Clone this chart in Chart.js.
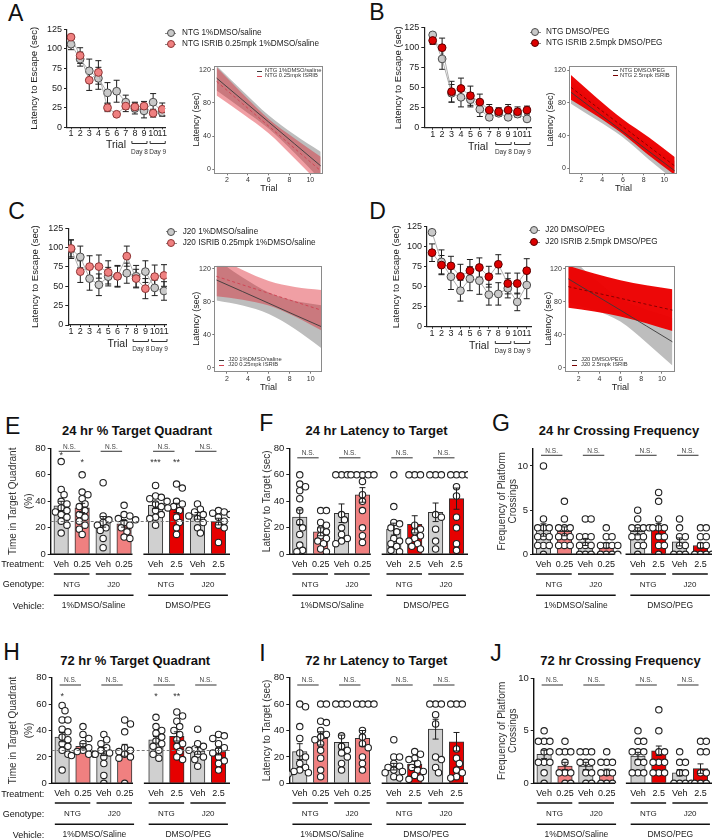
<!DOCTYPE html>
<html><head><meta charset="utf-8"><title>ISRIB water maze</title>
<script src="https://cdn.jsdelivr.net/npm/chart.js@4.4.1/dist/chart.umd.min.js"></script>
<style>
html,body{margin:0;padding:0;background:#fff}
body{position:relative;width:712px;height:839px;overflow:hidden;font-family:'Liberation Sans',Arial,Helvetica,sans-serif;color:#111}
canvas{position:absolute}
.t{position:absolute;white-space:nowrap;line-height:1}
.ln{position:absolute;height:0}
.dot{position:absolute;box-sizing:border-box;border-radius:50%}
</style></head><body>
<script>
// ================= DATA =================
const trials = [1,2,3,4,5,6,7,8,9,10,11];
const escapeTicks = [0,25,50,75,100,125];
const dayBrackets = [[8,9,'Day 8'],[10,11,'Day 9']];

const A_names = ['NTG 1%DMSO/saline','NTG ISRIB 0.25mpk 1%DMSO/saline'];
const A_veh = [106,87,72,62.5,44,46,32,24,21,32,19];
const A_vehSem = [7,9,15,14,13,14,9,7,9,11,5];
const A_isrib = [115,91.5,60,70,25,16.6,27,26,27,18,23];
const A_isribSem = [3,10,13,15,5,1.5,7,6,6,5,8];

const B_names = ['NTG DMSO/PEG','NTG ISRIB 2.5mpk DMSO/PEG'];
const B_veh = [116,86,43,38,35,23,13,18,13,17,11];
const B_vehSem = [2,13,11,12,9,9,3,4,3,4,3];
const B_isrib = [109,100,45,49,40,32,22,20,22,20,22];
const B_isribSem = [5,12,13,13,12,10,7,5,7,6,5];

const C_names = ['J20 1%DMSO/saline','J20 ISRIB 0.25mpk 1%DMSO/saline'];
const C_veh = [98,88,60,52,62.5,63,67,63,69,48,44];
const C_vehSem = [12,14,15,14,12,14,13,14,14,10,12];
const C_isrib = [99,69,75.5,75.5,68,63,89,60,47,62.5,64];
const C_isribSem = [11,14,14,15,15,13,13,12,13,15,14];

const D_names = ['J20 DMSO/PEG','J20 ISRIB 2.5mpk DMSO/PEG'];
const D_veh = [118,81,62.5,45,60,57.5,40,41,48,31,52];
const D_vehSem = [3,15,16,13,15,17,13,14,12,11,17];
const D_isrib = [92.5,77,76,63,70,74,62.5,78,54,54,70];
const D_isribSem = [11,12,12,15,14,12,13,12,13,13,15];

// regression insets (fit line and confidence band read at these trials)
const fitTrials = [1,3.5,6,8.5,11];
const insetYTicks = [0,40,80,120];
const insetXTicks = [2,4,6,8,10];
const A_fitNames = ['NTG 1%DMSO/saline','NTG 0.25mpk ISRIB'];
const A_vehFit=[110,83.5,57,30.5,4], A_vehHi=[125,94.5,65,41.5,21], A_vehLo=[95,72.5,49,19.5,-13];
const A_trtFit=[106,79,52,25,-2], A_trtHi=[123,91,60.5,37,15], A_trtLo=[89,67,43.5,13,-19];
const B_fitNames = ['NTG DMSO/PEG','NTG 2.5mpk ISRIB'];
const B_vehFit=[93,69,45,21,-3], B_vehHi=[107,79,52,31,9], B_vehLo=[79,59,38,11,-15];
const B_trtFit=[99,75,51,27,3], B_trtHi=[114,86,60,38,14], B_trtLo=[84,64,42,16,-8];
const C_fitNames = ['J20 1%DMSO/saline','J20 0.25mpk ISRIB'];
const C_vehFit=[106.6,92.5,78.3,64,50], C_vehHi=[131.6,109.5,91.3,81,76], C_vehLo=[81.6,75.5,65.3,47,24];
const C_trtFit=[111,100.7,90.5,80.2,70], C_trtHi=[135,118.7,105.5,98.2,94.5], C_trtLo=[87,82.7,75.5,62.2,45.5];
const D_fitNames = ['J20 DMSO/PEG','J20 2.5mpk ISRIB'];
const D_vehFit=[108,89,70,50.7,31.5], D_vehHi=[137,108,84,70.7,60.5], D_vehLo=[79,70,56,30.7,2.5];
const D_trtFit=[98.5,91.4,84.3,77.1,70], D_trtHi=[124,114.4,106.3,100.1,95.5], D_trtLo=[73,68.4,62.3,54.1,44.5];

// probe-trial bar panels
const treatLabels = ['Veh','0.25','Veh','0.25','Veh','2.5','Veh','2.5'];
const genotypeLabels = ['NTG','J20','NTG','J20'];
const vehicleLabels = ['1%DMSO/Saline','DMSO/PEG'];
const nsLabel = 'N.S.';
const pctTicks = [0,20,40,60,80];
const crossTicks = [0,5,10];

const E_mean = [36.5,35,24.5,23,37,35,29,24.7];
const E_sem = [3.5,3.5,4,2.5,2.5,3.5,2.5,2.5];
const E_pts = [
 [70,49,45,40,38,35,33,32,30,28,25,22,16],
 [60,47,45,42,38,36,33,30,28,25,22,19,15],
 [54,29,26,24,22,20,18,12,5],
 [37,30,29,27,26,24,22,20,17,13,12],
 [52,44,43,42,40,38,36,33,30,28,27,22],
 [53,50,40,38,36,35,33,28,24,20,15],
 [38,34,32,30,29,27,24,20,16],
 [33,32,31,30,28,25,22,20,9]];
const E_stars = ['*','*','','','***','**','',''];

const F_mean = [28,17,31,44.8,19,22.6,31.7,42];
const F_sem = [5.5,3,7,5.5,4.5,6.5,7,8];
const F_pts = [
 [60,53,51,48,42,33,24,20,15,7,3,2],
 [33,33,24,22,19,17,14,12,10,8,4,2],
 [60,60,60,30,26,20,15,12,10,8],
 [60,60,60,60,60,55,45,40,33,20,14,9],
 [60,36,24,23,20,17,12,10,8,6,3,2],
 [60,60,60,22,19,17,14,12,10,8,6,4],
 [60,60,60,30,28,19,10,4],
 [60,60,60,60,51,44,28,20,8,3]];

const G_mean = [2.75,2.6,1.4,1.0,2.6,2.9,1.4,1.0];
const G_sem = [0.7,0.5,0.4,0.3,0.4,0.6,0.45,0.3];
const G_pts = [
 [10,4,3,3,3,2,2,2,1,1,1,0],
 [6,4,3,3,3,2,2,2,1,1,1],
 [4,4,2,2,2,1,1,1,0,0,0],
 [3,2,2,1,1,1,1,0,0,0,0],
 [5,4,3,3,3,3,2,2,2,1,1,0],
 [7,6,4,3,3,3,2,2,1,1,0],
 [4,3,2,2,1,1,0,0,0],
 [3,3,2,2,1,1,0,0,0,0]];

const H_mean = [35,28,24,25,33,35.5,24.5,24];
const H_sem = [3.5,2,3,4.5,2.5,3.5,2.5,2.5];
const H_pts = [
 [59,55,48,48,41,39,35,33,30,28,25,22,10],
 [43,37,34,30,27,25,24,22,22,21],
 [37,33,30,27,25,23,22,20,15,6,0],
 [48,45,39,27,25,24,22,20,19,0],
 [50,43,40,38,35,32,30,28,25,22,19],
 [54,51,47,43,40,37,33,30,28,24,20,18],
 [41,30,28,26,25,22,20,18,13],
 [37,36,34,30,27,25,23,20,17,15,10]];
const H_stars = ['*','','','','*','**','',''];

const I_mean = [24,34,31,34,12.6,14.4,41,31.5];
const I_sem = [6,5,5.5,6,2.5,2.5,7.5,7];
const I_pts = [
 [60,58,43,34,23,20,15,12,10,9,8,7],
 [60,60,47,46,40,37,35,33,30,25,19,10,5],
 [60,60,60,36,28,25,23,20,15,10],
 [60,60,60,60,40,35,30,27,20,15,10],
 [33,20,20,15,13,12,10,9,8,5,4],
 [24,22,19,18,15,12,10,9,6,4,3],
 [60,60,60,52,45,20,18,12,8],
 [60,60,60,26,19,15,10,8,5,4]];

const J_mean = [2.75,1.65,1.65,1.05,2.6,3.1,1.0,1.4];
const J_sem = [0.4,0.35,0.35,0.3,0.35,0.45,0.3,0.45];
const J_pts = [
 [5,4,4,4,3,3,2,2,2,1,0],
 [4,3,3,3,2,1,1,1,0,0],
 [3,3,3,2,2,2,1,1,0,0],
 [3,2,2,2,1,1,1,0,0,0],
 [5,4,4,3,3,3,2,2,1,1,1],
 [7,5,3,3,2,2,2,1,1,1],
 [3,2,2,1,1,0,0,0,0],
 [4,4,3,3,1,1,0,0,0]];

// ================= STYLE / LAYOUT =================
const FONT = "'Liberation Sans', Arial, Helvetica, sans-serif";
Chart.defaults.font.family = FONT;
Chart.defaults.color = '#222';
Chart.defaults.animation = false;
Chart.defaults.events = [];
Chart.defaults.plugins.legend.display = false;
Chart.defaults.plugins.tooltip.enabled = false;

const XMAX = 8.55, BAR_POS = [0.5,1.5,2.5,3.5,5,6,7,8], BRK = [3.9,4.42];
const KIND = ['veh','low','veh','low','veh','high','veh','high'];
const BAR_FILL = {veh:'#d0d0d0', low:'#f08080', high:'#e60000'};
const PINK = {fill:'#ef8080', stroke:'#8e3535'};
const RED = {fill:'#dd0000', stroke:'#5a0000'};
const GREYPT = {fill:'#c9c9c9', stroke:'#4a4a4a'};

function addCanvas(g, yW, xH, p) {
  const left = Math.floor(g.L - yW - p.l), top = Math.floor(g.T - p.t);
  const right = Math.ceil(g.R + p.r), bottom = Math.ceil(g.B + xH + p.b);
  const c = document.createElement('canvas');
  c.width = right - left; c.height = bottom - top;
  c.style.left = left + 'px'; c.style.top = top + 'px';
  c.style.width = c.width + 'px'; c.style.height = c.height + 'px';
  document.body.appendChild(c);
  return {canvas: c, padding: {left: g.L - yW - left, top: g.T - top, right: right - g.R, bottom: bottom - g.B - xH}};
}

function txt(x, y, s, size, o) {
  o = o || {};
  const d = document.createElement('div'); d.className = 't'; d.textContent = s;
  d.style.fontSize = size + 'px';
  if (o.bold) d.style.fontWeight = 'bold';
  d.style.color = o.color || '#111';
  d.style.top = (y - 0.49 * size) + 'px';
  if (o.align === 'c') { d.style.left = x + 'px'; d.style.transform = 'translateX(-50%)'; }
  else if (o.align === 'r') { d.style.right = (712 - x) + 'px'; }
  else d.style.left = x + 'px';
  document.body.appendChild(d);
}
function hline(x1, x2, y, color, w, dash) {
  const d = document.createElement('div'); d.className = 'ln';
  d.style.left = x1 + 'px'; d.style.top = (y - w / 2) + 'px'; d.style.width = (x2 - x1) + 'px';
  d.style.borderTop = w + 'px ' + (dash ? 'dashed ' : 'solid ') + color;
  document.body.appendChild(d);
}
function dot(cx, cy, r, st) {
  const d = document.createElement('div'); d.className = 'dot';
  d.style.left = (cx - r) + 'px'; d.style.top = (cy - r) + 'px';
  d.style.width = d.style.height = (2 * r) + 'px';
  d.style.background = st.fill; d.style.border = '1px solid ' + st.stroke;
  document.body.appendChild(d);
}

function errBars(onTop) {
  const draw = chart => {
    const {ctx, scales: {y}} = chart;
    ctx.save(); ctx.strokeStyle = '#1e1e1e'; ctx.lineWidth = 1;
    chart.data.datasets.forEach((ds, di) => {
      if (!ds.sem) return;
      const meta = chart.getDatasetMeta(di);
      ds.data.forEach((d, i) => {
        const px = meta.data[i].x;
        const a = y.getPixelForValue(d.y + ds.sem[i]), b = y.getPixelForValue(d.y - ds.sem[i]);
        ctx.beginPath(); ctx.moveTo(px, a); ctx.lineTo(px, b);
        ctx.moveTo(px - 3, a); ctx.lineTo(px + 3, a); ctx.moveTo(px - 3, b); ctx.lineTo(px + 3, b);
        ctx.stroke();
      });
    });
    ctx.restore();
  };
  return onTop ? {id: 'errTop', afterDatasetsDraw: draw} : {id: 'errUnder', beforeDatasetsDraw: draw};
}

const bracketPlugin = {id: 'brk', afterDraw(chart) {
  const {ctx, chartArea: ca, scales: {x}} = chart;
  ctx.save(); ctx.strokeStyle = '#333'; ctx.lineWidth = 1; ctx.fillStyle = '#333';
  ctx.font = '6.5px ' + FONT; ctx.textAlign = 'center'; ctx.textBaseline = 'middle';
  dayBrackets.forEach(([a, b, t]) => {
    const x1 = x.getPixelForValue(a) - 3, x2 = x.getPixelForValue(b) + 3, yy = Math.round(ca.bottom + 16) + 0.5;
    ctx.beginPath(); ctx.moveTo(x1, yy - 2.5); ctx.lineTo(x1, yy); ctx.lineTo(x2, yy); ctx.lineTo(x2, yy - 2.5); ctx.stroke();
    ctx.fillText(t, (x1 + x2) / 2, ca.bottom + 24.5);
  });
  ctx.restore();
}};

function mainChart(g, veh, vehSem, trt, trtSem, trtStyle) {
  const {canvas, padding} = addCanvas(g, g.yW, g.xH, {l: 3, t: 8, r: 8, b: 5});
  const pts = ys => trials.map((t, i) => ({x: t, y: ys[i]}));
  new Chart(canvas, {
    type: 'line',
    data: {datasets: [
      {data: pts(trt), sem: trtSem, borderColor: '#9a9a9a', borderWidth: 0.8, pointRadius: 3.9,
       pointBackgroundColor: trtStyle.fill, pointBorderColor: trtStyle.stroke, pointBorderWidth: 1, order: 0},
      {data: pts(veh), sem: vehSem, borderColor: '#9a9a9a', borderWidth: 0.8, pointRadius: 3.9,
       pointBackgroundColor: GREYPT.fill, pointBorderColor: GREYPT.stroke, pointBorderWidth: 1, order: 1}
    ]},
    options: {
      responsive: false, layout: {padding},
      scales: {
        x: {type: 'linear', min: g.xmin, max: g.xmax, bounds: 'data',
            afterBuildTicks: s => { s.ticks = trials.map(v => ({value: v})); },
            afterFit: s => { s.height = g.xH; },
            ticks: {autoSkip: false, maxRotation: 0, font: {size: 9, lineHeight: 1}, padding: 0, color: '#222'},
            grid: {drawOnChartArea: false, drawTicks: true, tickLength: 2, color: '#222'},
            border: {color: '#222', width: 1.2},
            title: {display: true, text: 'Trial', font: {size: 10.5}, padding: 0, color: '#222'}},
        y: {min: 0, max: 125,
            afterBuildTicks: s => { s.ticks = escapeTicks.map(v => ({value: v})); },
            afterFit: s => { s.width = g.yW; },
            ticks: {font: {size: 9}, padding: 2, color: '#222'},
            grid: {drawOnChartArea: false, tickLength: 3, color: '#222'},
            border: {color: '#222', width: 1.2},
            title: {display: true, text: 'Latency to Escape (sec)', font: {size: 9.6}, padding: 0, color: '#222'}}
      }
    },
    plugins: [errBars(false), bracketPlugin]
  });
}

const boxPlugin = {id: 'box', afterDraw(chart) {
  const {ctx, chartArea: ca} = chart;
  ctx.save(); ctx.strokeStyle = '#8a8a8a'; ctx.lineWidth = 1;
  ctx.strokeRect(Math.round(ca.left) + 0.5, Math.round(ca.top) + 0.5, Math.round(ca.width) - 1, Math.round(ca.height) - 1);
  ctx.restore();
}};

function insetChart(g, fit, hi, lo, tFit, tHi, tLo, st) {
  const {canvas, padding} = addCanvas(g, g.yW, g.xH, {l: 2, t: 7, r: 6, b: 2});
  const P = ys => fitTrials.map((t, i) => ({x: t, y: ys[i]}));
  const band = {borderWidth: 0, borderColor: 'rgba(0,0,0,0)', pointRadius: 0, cubicInterpolationMode: 'monotone'};
  new Chart(canvas, {
    type: 'line',
    data: {datasets: [
      Object.assign({}, band, {data: P(hi), fill: '+1', backgroundColor: st.vehBand, order: 5}),
      Object.assign({}, band, {data: P(lo), fill: false, order: 5}),
      Object.assign({}, band, {data: P(tHi), fill: '+1', backgroundColor: st.trtBand, order: 4}),
      Object.assign({}, band, {data: P(tLo), fill: false, order: 4}),
      {data: P(fit), borderColor: '#3a3a3a', borderWidth: 0.9, pointRadius: 0, fill: false, order: 1},
      {data: P(tFit), borderColor: st.trtLine, borderWidth: 0.9, borderDash: [3, 2.5], pointRadius: 0, fill: false, order: 0}
    ]},
    options: {
      responsive: false, layout: {padding},
      scales: {
        x: {type: 'linear', min: g.xmin, max: g.xmax, bounds: 'data',
            afterBuildTicks: s => { s.ticks = insetXTicks.map(v => ({value: v})); },
            afterFit: s => { s.height = g.xH; },
            ticks: {autoSkip: false, maxRotation: 0, font: {size: 7, lineHeight: 1}, padding: 1.5, color: '#333'},
            grid: {drawOnChartArea: false, tickLength: 2, color: '#777'},
            border: {display: false},
            title: {display: true, text: 'Trial', font: {size: 9}, padding: 0, color: '#222'}},
        y: {min: g.ymin, max: g.ymax, bounds: 'data',
            afterBuildTicks: s => { s.ticks = insetYTicks.map(v => ({value: v})); },
            afterFit: s => { s.width = g.yW; },
            ticks: {font: {size: 7}, padding: 1.5, color: '#333'},
            grid: {drawOnChartArea: false, tickLength: 2, color: '#777'},
            border: {display: false},
            title: {display: true, text: 'Latency (sec)', font: {size: 9}, padding: 0, color: '#222'}}
      }
    },
    plugins: [boxPlugin]
  });
}

// column scatter: points may overlap a little, like the original plot
function swarm(vals, pxY, r) {
  const d = 1.8 * r;
  const idx = vals.map((v, i) => i).sort((a, b) => vals[b] - vals[a]);
  const placed = [], off = new Array(vals.length).fill(0);
  for (const i of idx) {
    const yy = vals[i] * pxY;
    for (let k = 0; k < 80; k++) {
      const c = k === 0 ? 0 : (k % 2 === 1 ? 1 : -1) * Math.ceil(k / 2) * d / 2;
      if (placed.every(p => { const dy = p.y - yy, dx = p.x - c; return dx * dx + dy * dy >= d * d * 0.97; })) {
        off[i] = c; placed.push({x: c, y: yy}); break;
      }
    }
  }
  return off;
}

function barDeco(cfg) {
  return {
    id: 'barDeco',
    afterDraw(chart) {
      const {ctx, chartArea: ca, scales: {x, y}} = chart;
      ctx.save();
      ctx.strokeStyle = '#111'; ctx.lineWidth = 1.4;
      const yb = y.getPixelForValue(0);
      ctx.beginPath();
      ctx.moveTo(ca.left, yb); ctx.lineTo(x.getPixelForValue(BRK[0]), yb);
      ctx.moveTo(x.getPixelForValue(BRK[1]), yb); ctx.lineTo(ca.right, yb);
      ctx.stroke();
      if (cfg.ref != null) {
        ctx.strokeStyle = '#777'; ctx.lineWidth = 1; ctx.setLineDash([3, 2]);
        const yr = Math.round(y.getPixelForValue(cfg.ref)) + 0.5;
        ctx.beginPath(); ctx.moveTo(ca.left, yr); ctx.lineTo(ca.right, yr); ctx.stroke();
        ctx.setLineDash([]);
      }
      ctx.textAlign = 'center'; ctx.textBaseline = 'middle';
      [[0,1],[2,3],[4,5],[6,7]].forEach(([a, b]) => {
        const x1 = x.getPixelForValue(BAR_POS[a]) - 2.5, x2 = x.getPixelForValue(BAR_POS[b]) - 2;
        const yl = ca.top + cfg.nsOff;
        ctx.strokeStyle = '#444'; ctx.lineWidth = 1.1;
        ctx.beginPath(); ctx.moveTo(x1, yl); ctx.lineTo(x2, yl); ctx.stroke();
        ctx.fillStyle = '#444'; ctx.font = '6.5px ' + FONT;
        ctx.fillText(nsLabel, (x1 + x2) / 2, yl - 4.3);
      });
      if (cfg.stars) {
        ctx.fillStyle = '#333'; ctx.font = '9px ' + FONT;
        cfg.stars.forEach((s, i) => { if (s) ctx.fillText(s, x.getPixelForValue(BAR_POS[i]), ca.top + cfg.starOff[i]); });
      }
      ctx.strokeStyle = '#111'; ctx.lineWidth = 1.4; ctx.fillStyle = '#222';
      [[0,1],[2,3],[4,5],[6,7]].forEach(([a, b], k) => {
        const x1 = x.getPixelForValue(BAR_POS[a] - 0.35), x2 = x.getPixelForValue(BAR_POS[b] + 0.35);
        ctx.beginPath(); ctx.moveTo(x1, ca.bottom + 19.7); ctx.lineTo(x2, ca.bottom + 19.7); ctx.stroke();
        ctx.font = '8px ' + FONT; ctx.fillText(genotypeLabels[k], (x1 + x2) / 2, ca.bottom + 30);
      });
      [[0,3],[4,7]].forEach(([a, b], k) => {
        const x1 = x.getPixelForValue(BAR_POS[a] - 0.35), x2 = x.getPixelForValue(BAR_POS[b] + 0.45);
        ctx.beginPath(); ctx.moveTo(x1, ca.bottom + 41); ctx.lineTo(x2, ca.bottom + 41); ctx.stroke();
        ctx.font = '8.5px ' + FONT; ctx.fillText(vehicleLabels[k], (x1 + x2) / 2, ca.bottom + 51.7);
      });
      ctx.restore();
    }
  };
}

function barPanel(g, d) {
  const xH = 60;
  const {canvas, padding} = addCanvas(g, g.yW, xH, {l: 2, t: 8, r: 8, b: 2});
  const r = 3.2;
  const pxY = (g.B - g.T) / d.yMax, pxX = (g.R - g.L) / XMAX;
  const scatter = [];
  d.pts.forEach((arr, i) => {
    const off = swarm(arr, pxY, r);
    arr.forEach((v, k) => scatter.push({x: BAR_POS[i] + off[k] / pxX, y: v}));
  });
  new Chart(canvas, {
    type: 'bar',
    data: {datasets: [
      {type: 'scatter', data: scatter, pointRadius: r, pointBackgroundColor: '#fff', pointBorderColor: '#222', pointBorderWidth: 1.1, order: 0},
      {type: 'bar', data: BAR_POS.map((p, i) => ({x: p, y: d.mean[i]})), sem: d.sem,
       backgroundColor: KIND.map(k => BAR_FILL[k]), borderColor: '#333', borderWidth: 1, barThickness: 14.5, order: 1}
    ]},
    options: {
      responsive: false, layout: {padding},
      scales: {
        x: {type: 'linear', min: 0, max: XMAX, offset: false, bounds: 'data',
            afterBuildTicks: s => { s.ticks = BAR_POS.map(v => ({value: v})); },
            afterFit: s => { s.height = xH; },
            ticks: {autoSkip: false, maxRotation: 0, font: {size: 9}, padding: 4.6, color: '#111',
                    callback: (v, i) => treatLabels[i]},
            grid: {display: false, drawTicks: false},
            border: {display: false}},
        y: {min: 0, max: d.yMax, bounds: 'data',
            afterBuildTicks: s => { s.ticks = d.yTicks.map(v => ({value: v})); },
            afterFit: s => { s.width = g.yW; },
            ticks: {font: {size: 9.5}, padding: 2, color: '#222'},
            grid: {drawOnChartArea: false, tickLength: 3, color: '#222'},
            border: {color: '#111', width: 1.4},
            title: {display: true, text: d.yTitle, font: {size: 10, lineHeight: d.titleLH}, padding: 0, color: '#333'}}
      }
    },
    plugins: [errBars(true), barDeco(d)]
  });
}

// ================= BUILD =================
const GM = {
  A: {L: 67, T: 29.3, R: 165, B: 127.3, yW: 38, xH: 24, xmin: 0.56, xmax: 11.3},
  B: {L: 424.3, T: 27.7, R: 531.7, B: 127.7, yW: 32.1, xH: 25.9, xmin: 0.11, xmax: 11.5},
  C: {L: 68.3, T: 228.3, R: 166.7, B: 325, yW: 39, xH: 25.3, xmin: 0.71, xmax: 11.29},
  D: {L: 427, T: 226.7, R: 531, B: 326.7, yW: 36, xH: 25.3, xmin: 0.47, xmax: 11.45}
};
mainChart(GM.A, A_veh, A_vehSem, A_isrib, A_isribSem, PINK);
mainChart(GM.B, B_veh, B_vehSem, B_isrib, B_isribSem, RED);
mainChart(GM.C, C_veh, C_vehSem, C_isrib, C_isribSem, PINK);
mainChart(GM.D, D_veh, D_vehSem, D_isrib, D_isribSem, RED);

const LIGHT = {vehBand: '#bdbdbd', trtBand: 'rgba(219,27,39,0.42)', trtLine: '#d04050'};
const DARK = {vehBand: '#bdbdbd', trtBand: 'rgba(236,0,0,0.97)', trtLine: '#7a0000'};
const GI = {
  A: {L: 214.3, T: 65.7, R: 323.3, B: 173.3, yW: 23, xH: 21.1, xmin: 0.78, xmax: 11.25, ymin: -5, ymax: 125},
  B: {L: 569.3, T: 65.7, R: 677.7, B: 173.3, yW: 23.7, xH: 21.1, xmin: 0.84, xmax: 11.29, ymin: -6, ymax: 125.5},
  C: {L: 214.3, T: 265.7, R: 322.7, B: 371.7, yW: 23, xH: 21.4, xmin: 0.79, xmax: 11.15, ymin: -4.9, ymax: 124},
  D: {L: 565.3, T: 265.7, R: 675.3, B: 371.7, yW: 22, xH: 21.4, xmin: 0.71, xmax: 11.28, ymin: -4.9, ymax: 124}
};
insetChart(GI.A, A_vehFit, A_vehHi, A_vehLo, A_trtFit, A_trtHi, A_trtLo, LIGHT);
insetChart(GI.B, B_vehFit, B_vehHi, B_vehLo, B_trtFit, B_trtHi, B_trtLo, DARK);
insetChart(GI.C, C_vehFit, C_vehHi, C_vehLo, C_trtFit, C_trtHi, C_trtLo, LIGHT);
insetChart(GI.D, D_vehFit, D_vehHi, D_vehLo, D_trtFit, D_trtHi, D_trtLo, DARK);

const GB = {
  E: {L: 50.7, T: 448.3, R: 230, B: 554.3, yW: 45.4},
  F: {L: 289.3, T: 448.3, R: 468, B: 554.3, yW: 27.6},
  G: {L: 533, T: 448.3, R: 712, B: 554.3, yW: 36.85},
  H: {L: 51.7, T: 677.7, R: 230, B: 783.3, yW: 46.4},
  I: {L: 289.3, T: 677.7, R: 468, B: 783.3, yW: 27.6},
  J: {L: 533.7, T: 678.3, R: 712, B: 783.3, yW: 37.55}
};
const pctTitle = ['Time in Target Quadrant', '(%)'];
const latTitle = 'Latency to Target (sec)';
const crossTitle = ['Frequency of Platform', 'Crossings'];
barPanel(GB.E, {mean: E_mean, sem: E_sem, pts: E_pts, yTicks: pctTicks, yMax: 80, yTitle: pctTitle, titleLH: 1.6,
  stars: E_stars, starOff: [7.7,14.4,14.4,14.4,14.4,14.4,14.4,14.4], nsOff: 3, ref: 25});
barPanel(GB.F, {mean: F_mean, sem: F_sem, pts: F_pts, yTicks: pctTicks, yMax: 80, yTitle: latTitle, titleLH: 1.2, nsOff: 9.5});
barPanel(GB.G, {mean: G_mean, sem: G_sem, pts: G_pts, yTicks: crossTicks, yMax: 12, yTitle: crossTitle, titleLH: 1.17, nsOff: 7});
barPanel(GB.H, {mean: H_mean, sem: H_sem, pts: H_pts, yTicks: pctTicks, yMax: 80, yTitle: pctTitle, titleLH: 1.6,
  stars: H_stars, starOff: [19,19,19,19,19,19,19,19], nsOff: 7.3, ref: 25});
barPanel(GB.I, {mean: I_mean, sem: I_sem, pts: I_pts, yTicks: pctTicks, yMax: 80, yTitle: latTitle, titleLH: 1.2, nsOff: 7.3});
barPanel(GB.J, {mean: J_mean, sem: J_sem, pts: J_pts, yTicks: crossTicks, yMax: 10, yTitle: crossTitle, titleLH: 1.17, nsOff: 6.7});

// ================= TEXT: letters, titles, legends =================
[['A',8,13],['B',369.3,12.5],['C',8.3,211.7],['D',369.3,211.7],['E',5,426.7],['F',259.3,423.3],
 ['G',492,423.3],['H',3.3,652.5],['I',259.3,653],['J',490.3,653]].forEach(([s,x,y]) => txt(x, y, s, 23, {color:'#111'}));

[['24 hr % Target Quadrant',137,430],['24 hr Latency to Target',376.5,430.7],['24 hr Crossing Frequency',619,430],
 ['72 hr % Target Quadrant',135.2,660.7],['72 hr Latency to Target',376.3,660.7],['72 hr Crossing Frequency',620.5,660]]
 .forEach(([s,x,y]) => txt(x, y, s, 13, {bold: true, align: 'c'}));

[[564,584,606],[794,814,835]].forEach(ys => {
  txt(44.3, ys[0], 'Treatment:', 9, {align: 'r'});
  txt(44.3, ys[1], 'Genotype:', 9, {align: 'r'});
  txt(44.3, ys[2], 'Vehicle:', 9, {align: 'r'});
});

function legend2(cx, y1, y2, tx, names, st2) {
  [[y1, GREYPT, names[0]], [y2, st2, names[1]]].forEach(([y, st, name]) => {
    hline(cx - 5.5, cx + 5.5, y, '#888', 1);
    dot(cx, y, 4, st);
    txt(tx, y, name, 8.2, {color: '#222'});
  });
}
legend2(170.5, 33.3, 44.3, 182, A_names, PINK);
legend2(535, 32.3, 43.3, 546, B_names, RED);
legend2(171, 231.7, 243.3, 182.7, C_names, PINK);
legend2(534.3, 230, 242.3, 545.3, D_names, RED);

function insetLegend(x1, x2, y1, y2, tx, names, st) {
  hline(x1, x2, y1, '#3a3a3a', 0.8);
  hline(x1, x2, y2, st.trtLine, 0.8, true);
  txt(tx, y1, names[0], 5.8, {color: '#333'});
  txt(tx, y2, names[1], 5.8, {color: '#333'});
}
insetLegend(256.7, 262, 71, 76, 265, A_fitNames, LIGHT);
insetLegend(612.7, 618, 70.7, 75.7, 620, B_fitNames, DARK);
insetLegend(219.3, 224.5, 360, 365, 228.3, C_fitNames, LIGHT);
insetLegend(572, 577, 360, 365, 581, D_fitNames, DARK);
</script>
</body></html>
